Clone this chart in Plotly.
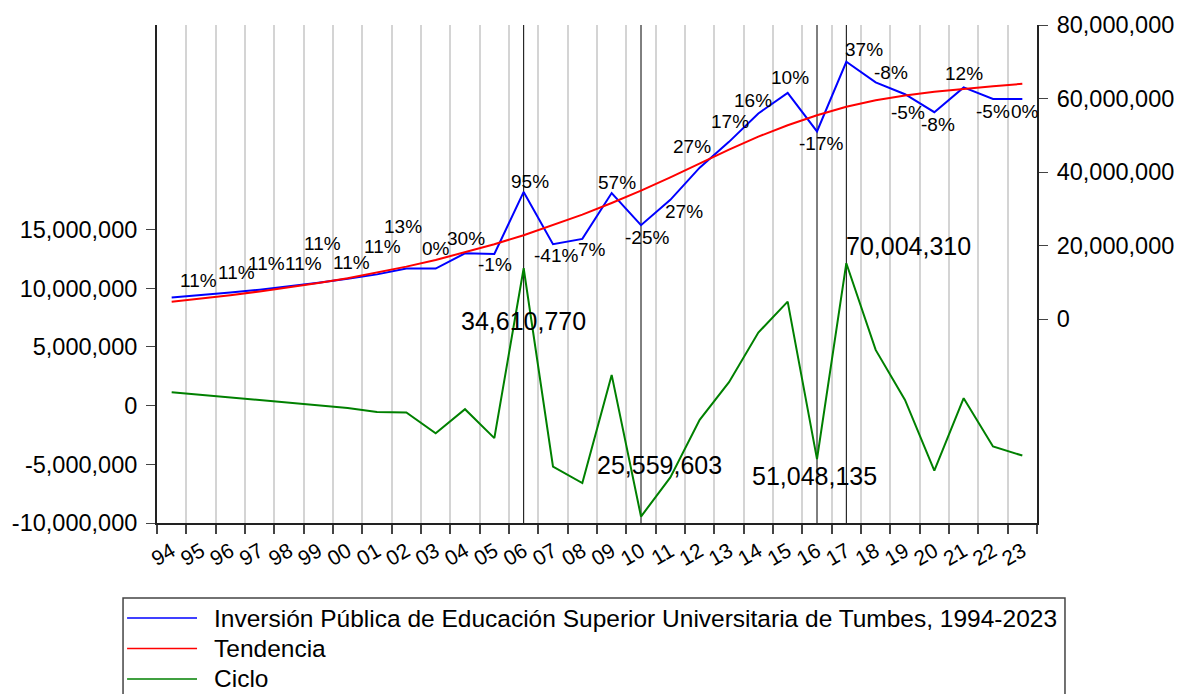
import plotly.graph_objects as go

# ---- data ----
years = list(range(1994, 2024))
year_labels = [f"{y % 100:02d}" for y in years]

inversion = [5880000, 6520000, 7240000, 8040000, 8920000, 9900000, 10990000, 12200000,
             13790000, 13790000, 17930000, 17750000, 34610770, 20420000, 21850000, 34300000,
             25559603, 32460000, 41220000, 48230000, 55950000, 61540000, 51048135, 70004310,
             64400000, 61180000, 56290000, 63040000, 59890000, 59890000]

tendencia = [4730000, 5600000, 6550000, 7570000, 8650000, 9850000, 11150000, 12650000,
             14300000, 16100000, 18150000, 20400000, 22850000, 25550000, 28450000, 31600000,
             34950000, 38550000, 42350000, 46100000, 49650000, 52750000, 55450000, 57750000,
             59550000, 60850000, 61850000, 62650000, 63350000, 64000000]

ciclo = [1150000, 920000, 690000, 470000, 270000, 40000, -190000, -530000,
         -580000, -2350000, -300000, -2770000, 11710000, -5190000, -6600000, 2620000,
         -9450000, -6120000, -1210000, 2000000, 6230000, 8870000, -4560000, 12140000,
         4750000, 490000, -5530000, 640000, -3480000, -4250000]

# growth rates shown over the blue line (1995-2023)
growth = [11, 11, 11, 11, 11, 11, 11, 13, 0, 30, -1, 95, -41, 7, 57, -25, 27, 27,
          17, 16, 10, -17, 37, -8, -5, -8, 12, -5, 0]

marked_years = [2006, 2010, 2016, 2017]

left_ticks = [-10000000, -5000000, 0, 5000000, 10000000, 15000000]
right_ticks = [0, 20000000, 40000000, 60000000, 80000000]

names = ["Inversión Pública de Educación Superior Universitaria de Tumbes, 1994-2023",
         "Tendencia", "Ciclo"]
colors = ["#0000ff", "#ff0000", "#008000"]

# label offsets in pixels (dx, dy up) for the growth labels
growth_offsets = [(-3, 15), (6, 20), (7, 26), (14, 23), (4, 39), (4, 16), (5, 28), (-3, 42),
                  (0, 20), (1, 15), (1, -11), (6, 10), (3, -11), (10, -11), (5, 11), (6, -12),
                  (14, -12), (-8, 21), (1, 20), (-5, 13), (2, 15), (4, -12), (18, 12),
                  (15, 10), (3, -18), (4, -12), (0, 14), (0, -13), (3, -13)]
# where the marked values are written: (left-axis y, dx)
value_label_pos = [(7220000, 0), (-5040000, 18), (-5980000, -3), (13600000, 62)]

FONT = "Liberation Sans, Arial, sans-serif"

fig = go.Figure()
fig.add_scatter(x=years, y=inversion, yaxis="y2", mode="lines",
                line=dict(color=colors[0], width=2), showlegend=False)
fig.add_scatter(x=years, y=tendencia, yaxis="y2", mode="lines",
                line=dict(color=colors[1], width=2), showlegend=False)
fig.add_scatter(x=years, y=ciclo, yaxis="y", mode="lines",
                line=dict(color=colors[2], width=2), showlegend=False)

for yr in marked_years:
    fig.add_shape(type="line", xref="x", yref="paper", x0=yr, x1=yr, y0=0, y1=1,
                  line=dict(color="black", width=1), layer="between")

for i, g in enumerate(growth):
    dx, dy = growth_offsets[i]
    fig.add_annotation(x=years[i + 1], y=inversion[i + 1], yref="y2", text=f"{g}%",
                       showarrow=False, xshift=dx, yshift=dy,
                       font=dict(family=FONT, size=19, color="black"))

for yr, (ypos, dx) in zip(marked_years, value_label_pos):
    val = inversion[years.index(yr)]
    fig.add_annotation(x=yr, y=ypos, yref="y", text=f"{val:,}", showarrow=False,
                       xshift=dx, font=dict(family=FONT, size=25, color="black"))

# legend box drawn by hand (paper coords)
fig.add_shape(type="rect", xref="paper", yref="paper", x0=-0.0386, x1=1.0318,
              y0=-0.36, y1=-0.1506, line=dict(color="#444", width=1.5), fillcolor="white")
for k, (nm, c) in enumerate(zip(names, colors)):
    yy = -0.1908 - k * 0.0612
    fig.add_shape(type="line", xref="paper", yref="paper", x0=-0.034, x1=0.0455,
                  y0=yy, y1=yy, line=dict(color=c, width=1.5))
    fig.add_annotation(xref="paper", yref="paper", x=0.0625, y=yy, text=nm,
                       showarrow=False, xanchor="left", yanchor="middle",
                       font=dict(family=FONT, size=24.5, color="black"))

# the page body adds 8px around the figure, so the figure is 8px smaller
fig.update_layout(
    width=1174, height=686,
    margin=dict(l=149, r=145, t=17, b=171, autoexpand=False),
    paper_bgcolor="white", plot_bgcolor="white",
    font=dict(family=FONT, color="black"),
    xaxis=dict(range=[1993.5, 2023.5], tickvals=years, ticktext=year_labels,
               ticks="", tickangle=-30, showgrid=False, zeroline=False,
               showline=True, linecolor="#222", linewidth=2,
               tickfont=dict(size=21), ticklabelstandoff=6,
               minor=dict(tickvals=[y - 0.5 for y in years] + [2023.5], ticks="outside",
                          ticklen=9, tickcolor="#444", tickwidth=1.5,
                          showgrid=True, gridcolor="#d4d4d4", gridwidth=1.5)),
    yaxis=dict(range=[-10000000, 32440000], tickvals=left_ticks,
               ticktext=[f"{v:,}" for v in left_ticks], ticks="outside", ticklen=9,
               tickcolor="#444", showgrid=False, zeroline=False, showline=True,
               linecolor="#222", linewidth=2, tickfont=dict(size=23.5), ticklabelstandoff=4),
    yaxis2=dict(range=[-55400000, 80000000], tickvals=right_ticks,
                ticktext=[f"{v:,}" for v in right_ticks], overlaying="y", side="right",
                ticks="outside", ticklen=9, tickcolor="#444", showgrid=False,
                zeroline=False, showline=True, linecolor="#222", linewidth=2,
                tickfont=dict(size=23.5), ticklabelstandoff=4),
)

fig.write_html("out.html")
